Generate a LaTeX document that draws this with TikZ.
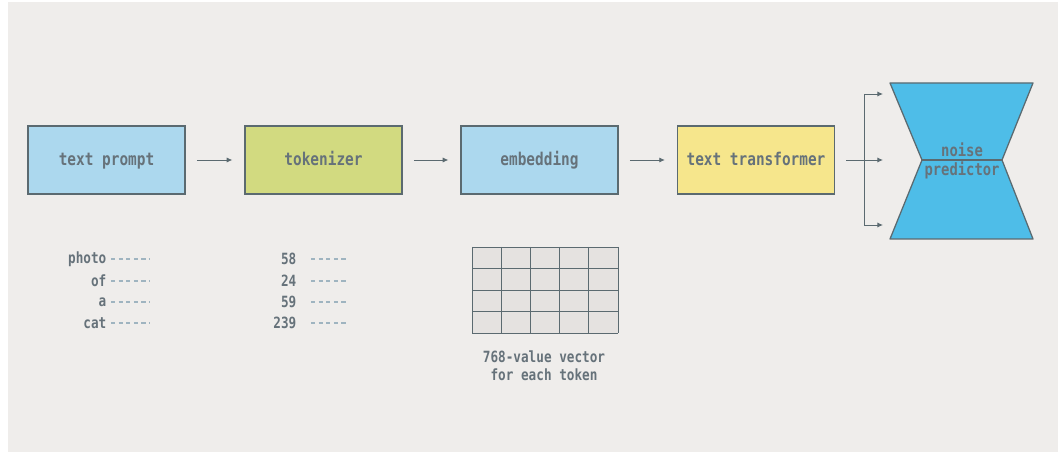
\documentclass[tikz,border=0pt]{standalone}
\usepackage{fontspec}
\newfontfamily\pixfont[FakeStretch=0.82]{DejaVu Sans Mono}
\usepackage{tikz}
\usetikzlibrary{positioning}
\usetikzlibrary{arrows.meta}

\definecolor{bgcol}{HTML}{EFEDEB}
\definecolor{promptcol}{HTML}{ACD8EE}
\definecolor{tokcol}{HTML}{D2DA80}
\definecolor{transcol}{HTML}{F6E68C}
\definecolor{npcol}{HTML}{4EBDE8}
\definecolor{edgecol}{HTML}{5B6A70}
\definecolor{txtcol}{HTML}{66727A}
\definecolor{cellcol}{HTML}{E5E2E0}
\definecolor{dashcol}{HTML}{9FB4C0}

\tikzset{
	stage/.style={draw=edgecol,line width=0.9pt,minimum width=3.925cm,minimum height=1.7cm,
		text height=2ex,text depth=0.3ex,
		text=txtcol,font=\pixfont\bfseries\fontsize{12.5}{14}\selectfont},
	flow/.style={draw=edgecol,line width=0.7pt,-{Latex[length=1.4mm,width=1.3mm]}},
	word/.style={anchor=east,text=txtcol,inner sep=1pt,font=\pixfont\bfseries\fontsize{11}{12}\selectfont},
	dots/.style={draw=dashcol,line width=0.8pt,dash pattern=on 3pt off 2.4pt}
}

\begin{document}
\begin{tikzpicture}[x=0.025cm,y=-0.025cm]
	\useasboundingbox (0,0) rectangle (1058,452);
	\fill[bgcol] (8,2) rectangle (1058,452);

	% pipeline
	\node[stage,fill=promptcol] (prompt) at (106.5,160) {text prompt};
	\node[stage,fill=tokcol] (tok) at (323.5,160) {tokenizer};
	\node[stage,fill=promptcol] (emb) at (539.5,160) {embedding};
	\node[stage,fill=transcol] (trans) at (756,160) {text transformer};
	\draw[flow,shorten <=0.28cm,shorten >=0.3cm] (prompt) -- (tok);
	\draw[flow,shorten <=0.28cm,shorten >=0.3cm] (tok) -- (emb);
	\draw[flow,shorten <=0.28cm,shorten >=0.3cm] (emb) -- (trans);

	% noise predictor
	\coordinate (npa) at (890,83);  \coordinate (npb) at (1033,83);
	\coordinate (npl) at (922,160); \coordinate (npr) at (1002,160);
	\coordinate (npc) at (890,239); \coordinate (npd) at (1033,239);
	\filldraw[fill=npcol,draw=edgecol,line width=0.9pt,line join=round]
		(npa) -- (npb) -- (npr) -- (npd) -- (npc) -- (npl) -- cycle;
	\draw[edgecol,line width=0.9pt] (npl) -- (npr);
	\node[text=txtcol,align=center,font=\pixfont\bfseries\fontsize{12}{14}\selectfont] (np) at (962,161) {noise\\predictor};

	% fan out
	\coordinate (fork) at (864,160);
	\coordinate (up) at (864,94);   \coordinate (upin) at (883,94);
	\coordinate (mid) at (883,160);
	\coordinate (low) at (864,225); \coordinate (lowin) at (883,225);
	\draw[flow,shorten <=0.28cm] (trans.east) -- (mid);
	\draw[edgecol,line width=0.7pt] (up) -- (low);
	\draw[flow] (up) -- (upin);
	\draw[flow] (low) -- (lowin);

	% words and ids
	\foreach \w/\n/\y in {photo/58/259, of/24/281, a/59/302, cat/239/323}{
		\node[word] (w\n) at (108,\y) {\w};
		\draw[dots] (111,\y) -- (150,\y);
		\node[word] (id\n) at (298,\y) {\n};
		\draw[dots] (311,\y) -- (348,\y);
	}

	% embedding table
	\fill[cellcol] (472,247) rectangle (618,333);
	\foreach \i in {0,...,5}
		\draw[edgecol,line width=0.7pt] (472+29.2*\i,247) -- (472+29.2*\i,333);
	\foreach \j in {0,...,4}
		\draw[edgecol,line width=0.7pt] (472,247+21.5*\j) -- (618,247+21.5*\j);
	\node[word,anchor=center,align=center,font=\pixfont\bfseries\fontsize{11}{12.5}\selectfont] (vec) at (544,366) {768-value vector\\for each token};
\end{tikzpicture}
\end{document}
